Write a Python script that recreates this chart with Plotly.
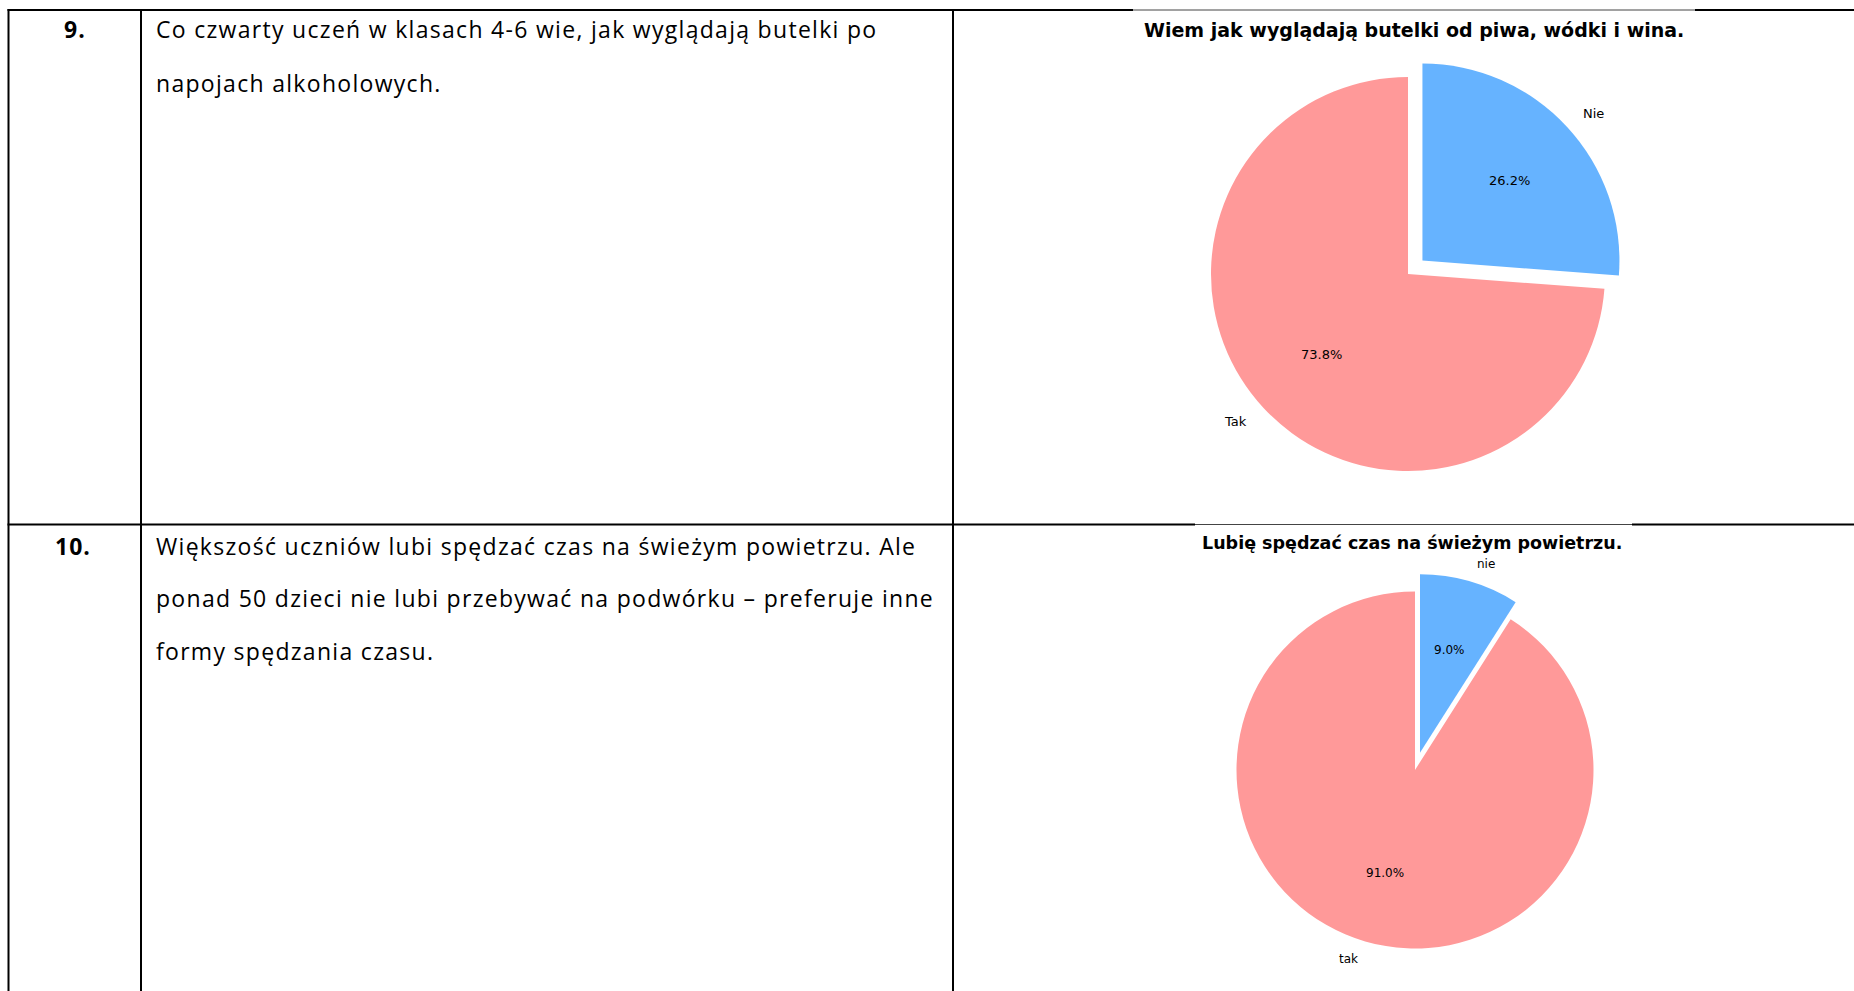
import math
import plotly.graph_objects as go

W, H = 1854, 991

# ---- data ----
row_numbers = ["9.", "10."]
row1_lines = ["Co czwarty uczeń w klasach 4-6 wie, jak wyglądają butelki po",
              "napojach alkoholowych."]
row2_lines = ["Większość uczniów lubi spędzać czas na świeżym powietrzu. Ale",
              "ponad 50 dzieci nie lubi przebywać na podwórku – preferuje inne",
              "formy spędzania czasu."]

pie1_title = "Wiem jak wyglądają butelki od piwa, wódki i wina."
pie1_labels = ["Nie", "Tak"]
pie1_values = [26.2, 73.8]

pie2_title = "Lubię spędzać czas na świeżym powietrzu."
pie2_labels = ["nie", "tak"]
pie2_values = [9.0, 91.0]

pie_colors = ["#66b3ff", "#ff9999"]
pie_pull = [0.1, 0.0]


def px(x):
    return x / W


def py(y):
    return 1 - y / H


fig = go.Figure()
annotations = []
shapes = []


def add_pie(labels, values, title, cx, cy, r, title_x, title_y, title_size, lab_size):
    half = r * (1 + max(pie_pull))
    fig.add_trace(go.Pie(
        labels=labels, values=values, sort=False, direction="clockwise",
        rotation=0, pull=pie_pull, textinfo="none", hoverinfo="label+percent",
        marker=dict(colors=pie_colors, line=dict(width=0)),
        domain=dict(x=[px(cx - half), px(cx + half)],
                    y=[py(cy + half), py(cy - half)]),
        showlegend=False,
    ))
    total = sum(values)
    start = 90.0
    for i, (lab, v) in enumerate(zip(labels, values)):
        frac = v / total
        mid = math.radians(start - 180 * frac)
        start -= 360 * frac
        ox = pie_pull[i] * r * math.cos(mid)
        oy = -pie_pull[i] * r * math.sin(mid)
        lx = cx + ox + 1.1 * r * math.cos(mid)
        ly = cy + oy - 1.1 * r * math.sin(mid)
        annotations.append(dict(
            x=px(lx), y=py(ly), xref="paper", yref="paper", text=lab,
            showarrow=False, xanchor="left" if math.cos(mid) > 0 else "right",
            yanchor="middle", font=dict(family="DejaVu Sans", size=lab_size, color="#000")))
        tx = cx + ox + 0.6 * r * math.cos(mid)
        ty = cy + oy - 0.6 * r * math.sin(mid)
        annotations.append(dict(
            x=px(tx), y=py(ty), xref="paper", yref="paper",
            text=f"{100 * frac:.1f}%", showarrow=False, xanchor="center",
            yanchor="middle", font=dict(family="DejaVu Sans", size=lab_size, color="#000")))
    annotations.append(dict(
        x=px(title_x), y=py(title_y), xref="paper", yref="paper",
        text=f"<b>{title}</b>", showarrow=False, xanchor="center", yanchor="middle",
        font=dict(family="DejaVu Sans", size=title_size, color="#000")))


add_pie(pie1_labels, pie1_values, pie1_title, 1408, 274, 197, 1414, 30, 19, 13)
add_pie(pie2_labels, pie2_values, pie2_title, 1415, 770, 178.5, 1412, 543, 17.5, 12)

# ---- table lines ----
def hline(x0, x1, y, w=2, c="#000"):
    shapes.append(dict(type="line", xref="paper", yref="paper",
                       x0=px(x0), x1=px(x1), y0=py(y), y1=py(y),
                       line=dict(color=c, width=w)))


def vline(x, y0, y1, w=2, c="#000"):
    shapes.append(dict(type="line", xref="paper", yref="paper",
                       x0=px(x), x1=px(x), y0=py(y0), y1=py(y1),
                       line=dict(color=c, width=w)))


hline(7.5, 1133, 10)
hline(1133, 1695, 10, 1, "#444")
hline(1695, W, 10)
hline(7.5, 1195, 524.5)
hline(1195, 1632, 524.5, 1, "#444")
hline(1632, W, 524.5)
vline(8.5, 9, H + 5)
vline(141, 9, H + 5)
vline(953, 9, H + 5)

# ---- left column text ----
text_font = dict(family="Open Sans", size=23, color="#000")
num_font = dict(family="Open Sans", size=23, color="#000")


def spaced(t, sp):
    return f'<span style="letter-spacing:{sp}px">{t}</span>'


annotations.append(dict(x=px(74.5), y=py(29), text=f"<b>{spaced(row_numbers[0], 1)}</b>",
                        xref="paper", yref="paper", showarrow=False,
                        xanchor="center", yanchor="middle", font=num_font))
annotations.append(dict(x=px(73), y=py(545.5), text=f"<b>{spaced(row_numbers[1], 1)}</b>",
                        xref="paper", yref="paper", showarrow=False,
                        xanchor="center", yanchor="middle", font=num_font))
for i, t in enumerate(row1_lines):
    annotations.append(dict(x=px(154), y=py(29 + 54.5 * i), text=spaced(t, 1.3),
                            xref="paper", yref="paper", showarrow=False,
                            xanchor="left", yanchor="middle", font=text_font))
for i, t in enumerate(row2_lines):
    annotations.append(dict(x=px(154), y=py(545.5 + 52.5 * i), text=spaced(t, 1.3),
                            xref="paper", yref="paper", showarrow=False,
                            xanchor="left", yanchor="middle", font=text_font))

fig.update_layout(
    width=W, height=H, margin=dict(l=0, r=0, t=0, b=0),
    paper_bgcolor="white", plot_bgcolor="white",
    shapes=shapes, annotations=annotations, showlegend=False,
)

fig.write_html("out.html", config={"displayModeBar": False},
               post_script="document.body.style.margin='0';")
